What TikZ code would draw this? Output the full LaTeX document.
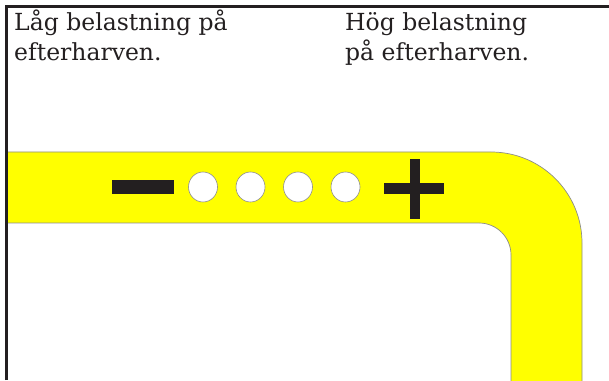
\documentclass[tikz,border=0pt]{standalone}
\usepackage{fontspec}
\setmainfont{DejaVu Serif}
\definecolor{ink}{HTML}{231F20}
\definecolor{band}{HTML}{FFFF00}
\definecolor{edge}{HTML}{8C8C8C}
\usetikzlibrary{shapes.geometric}
\tikzset{
  frameline/.style={draw=ink, line width=2.2pt},
  bandshape/.style={fill=band, draw=edge, line width=0.7pt},
  hole/.style={ellipse, draw=edge, fill=white, line width=0.6pt, minimum width=29pt, minimum height=30pt, inner sep=0pt},
  signbar/.style={fill=ink, draw=none},
  label/.style={anchor=base west, align=left, inner sep=0pt, text=ink, font=\fontsize{23.5}{30}\selectfont}
}
\begin{document}
\begin{tikzpicture}[x=1pt,y=1pt]
\useasboundingbox (0,0) rectangle (609,380);
% yellow band
\path[bandshape] (7,228) -- (491,228) arc[start angle=90, end angle=0, radius=91pt]
  -- (582,-2) -- (511,-2) -- (511,125) arc[start angle=0, end angle=90, radius=32pt]
  -- (7,157) -- cycle;
% frame
\coordinate (tl) at (6.5,373.5);
\coordinate (tr) at (609,373.5);
\coordinate (bl) at (6.5,0);
\draw[frameline] (bl) -- (tl) -- (tr);
% minus
\fill[signbar] (112,186) rectangle (174,200);
% holes
\node[hole] (h1) at (203,193) {};
\node[hole] (h2) at (250.5,193) {};
\node[hole] (h3) at (298,193) {};
\node[hole] (h4) at (345.5,193) {};
% plus
\fill[signbar] (384,186) rectangle (444,197);
\fill[signbar] (409.5,161) rectangle (420,221);
% texts
\node[label] (low) at (14,319) {Låg belastning på\\efterharven.};
\node[label] (high) at (345,319) {Hög belastning\\på efterharven.};
\end{tikzpicture}
\end{document}
